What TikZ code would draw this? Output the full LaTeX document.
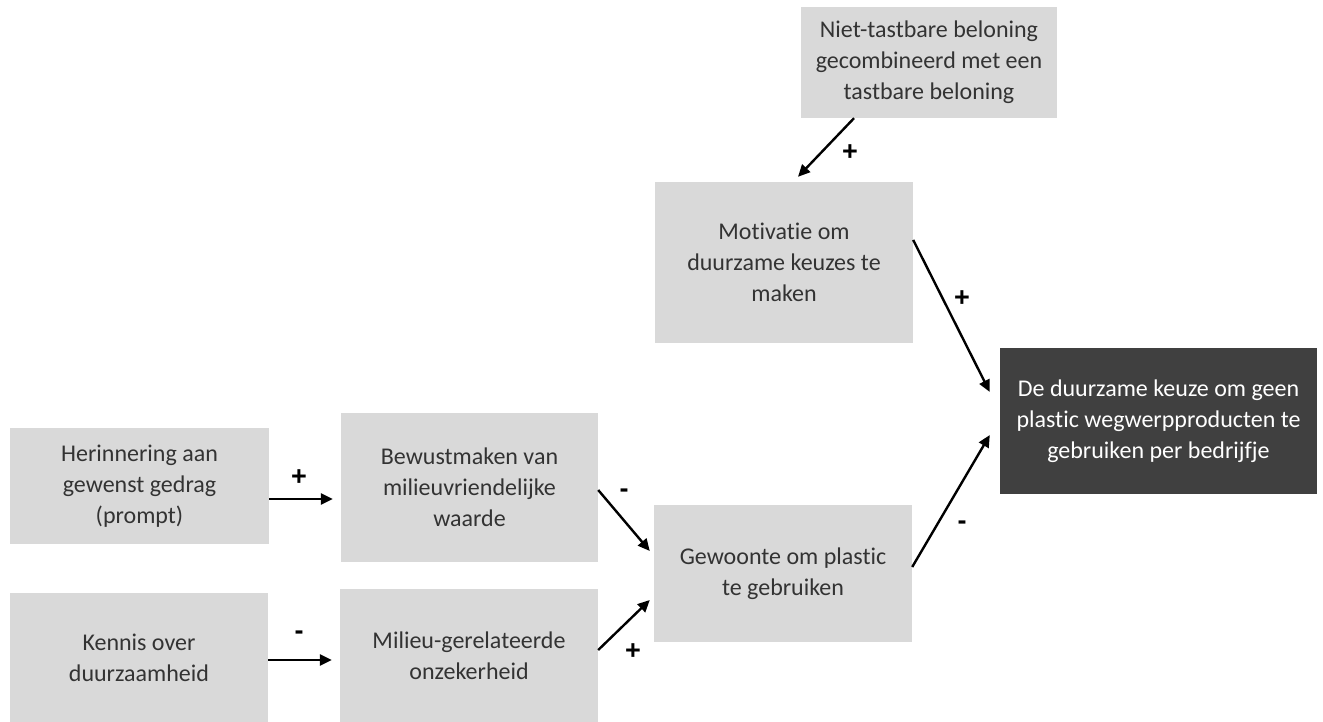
\documentclass[tikz,border=0pt]{standalone}
\usepackage{fontspec}
\setmainfont[Ligatures={NoCommon}]{Carlito}
\newfontfamily\signfont{Liberation Sans}
\usetikzlibrary{arrows.meta,calc}
\definecolor{boxgray}{HTML}{D9D9D9}
\definecolor{boxdark}{HTML}{404040}
\definecolor{txtgray}{HTML}{333333}
\begin{document}
\begin{tikzpicture}[x=1pt,y=-1pt,
  lbox/.style={rectangle, fill=boxgray, inner sep=0pt, align=center, text=txtgray,
    font=\fontsize{24}{31}\selectfont},
  dbox/.style={lbox, fill=boxdark, text=white},
  arr/.style={line width=2.4pt, -{Triangle[length=12pt,width=11pt]}},
  sign/.style={font=\signfont\bfseries\fontsize{27}{28}\selectfont, inner sep=0pt, text=black}]
\useasboundingbox (0,0) rectangle (1323,722);
% boxes
\node[lbox, minimum width=256pt, minimum height=111pt] (niet) at (929,62.5)
  {Niet-tastbare beloning\\gecombineerd met een\\tastbare beloning};
\node[lbox, minimum width=258pt, minimum height=161pt] (mot) at (784,262.5)
  {Motivatie om\\duurzame keuzes te\\maken};
\node[dbox, minimum width=317pt, minimum height=146pt] (dark) at (1158.5,421)
  {De duurzame keuze om geen\\plastic wegwerpproducten te\\gebruiken per bedrijfje};
\node[lbox, minimum width=259pt, minimum height=116pt] (her) at (139.5,486)
  {Herinnering aan\\gewenst gedrag\\(prompt)};
\node[lbox, minimum width=257pt, minimum height=149pt] (bew) at (469.5,487.5)
  {Bewustmaken van\\milieuvriendelijke\\waarde};
\node[lbox, minimum width=258pt, minimum height=137pt] (gew) at (783,573.5)
  {Gewoonte om plastic\\te gebruiken};
\node[lbox, minimum width=258pt, minimum height=129pt] (ken) at (139,657.5)
  {Kennis over\\duurzaamheid};
\node[lbox, minimum width=258pt, minimum height=133pt] (mil) at (469,655.5)
  {Milieu-gerelateerde\\onzekerheid};
% connectors
\draw[arr] ([xshift=-75pt]niet.south) -- ([xshift=14pt,yshift=5pt]mot.north);
\draw[arr] ([yshift=22.5pt]mot.east) -- ([xshift=-10pt,yshift=29pt]dark.west);
\draw[arr] ([yshift=6.5pt]gew.east) -- ([xshift=-10pt,yshift=-14pt]dark.west);
\draw[arr] ([yshift=-13pt]her.east) -- ([xshift=-8pt,yshift=-11.5pt]bew.west);
\draw[arr] ([yshift=-2.5pt]ken.east) -- ([xshift=-8pt,yshift=-4.5pt]mil.west);
\draw[arr] ([yshift=-2.5pt]bew.east) -- ([xshift=-4pt,yshift=22.5pt]gew.west);
\draw[arr] ([yshift=5.5pt]mil.east) -- ([xshift=-4pt,yshift=-26.5pt]gew.west);
% signs
\node[sign] (s1) at (850,153) {+};
\node[sign] (s2) at (962,299) {+};
\node[sign] (s3) at (962,525) {-};
\node[sign] (s4) at (299,478) {+};
\node[sign] (s5) at (299,635) {-};
\node[sign] (s6) at (624,493) {-};
\node[sign] (s7) at (633,652) {+};
\end{tikzpicture}
\end{document}
